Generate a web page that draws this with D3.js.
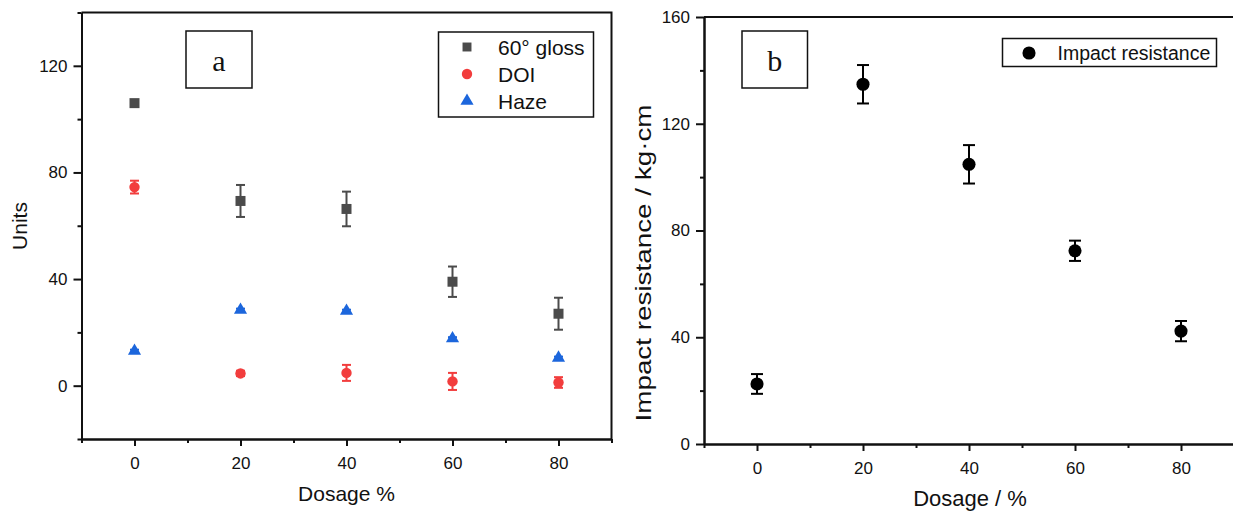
<!DOCTYPE html>
<html>
<head>
<meta charset="utf-8">
<script src="https://cdn.jsdelivr.net/npm/d3@7"></script>
<style>
  body { margin: 0; background: #fff; }
  svg text { font-family: Arial, "Liberation Sans", sans-serif; fill: #111; }
</style>
</head>
<body>
<svg id="chart" width="1233" height="511"></svg>
<script>
// dosage levels (%)
var dosage = [0, 20, 40, 60, 80];

// panel a
var glossValues = [106, 69.3, 66.3, 39, 27];
var glossErrors = [1, 6, 6.5, 5.7, 6];
var doiValues = [74.5, 4.6, 4.8, 1.6, 1.2];
var doiErrors = [2.4, 1, 3, 3.2, 2];
var hazeValues = [13, 28.4, 28, 17.7, 10.4];
var hazeErrors = [0.5, 0.5, 0.5, 0.5, 0.5];

// panel b
var impactValues = [22.5, 134.8, 104.8, 72.4, 42.3];
var impactErrors = [3.7, 7.2, 7.2, 3.8, 3.8];

// ticks
var xTicks = [0, 20, 40, 60, 80];
var xMinorTicks = [-10, 10, 30, 50, 70, 90];
var yTicksA = [0, 40, 80, 120];
var yMinorTicksA = [-20, 20, 60, 100, 140];
var yTicksB = [0, 40, 80, 120, 160];
var yMinorTicksB = [20, 60, 100, 140];

var svg = d3.select("#chart");

function drawAxes(g, x, y, xt, xmt, yt, ymt) {
    var xr = x.range(), yr = y.range();

    // frame top / right
    g.append("path")
        .attr("d", "M" + xr[0] + "," + yr[1] + "H" + xr[1] + "V" + yr[0])
        .attr("fill", "none").attr("stroke", "#111").attr("stroke-width", 2);

    var ax = g.append("g").attr("transform", "translate(0," + yr[0] + ")")
        .call(d3.axisBottom(x).tickValues(xt).tickSize(7).tickSizeOuter(0).tickPadding(11));
    var axm = g.append("g").attr("transform", "translate(0," + yr[0] + ")")
        .call(d3.axisBottom(x).tickValues(xmt).tickSize(4).tickSizeOuter(0).tickFormat(""));
    var ay = g.append("g").attr("transform", "translate(" + xr[0] + ",0)")
        .call(d3.axisLeft(y).tickValues(yt).tickSize(8).tickSizeOuter(0).tickPadding(6));
    var aym = g.append("g").attr("transform", "translate(" + xr[0] + ",0)")
        .call(d3.axisLeft(y).tickValues(ymt).tickSize(4).tickSizeOuter(0).tickFormat(""));

    [ax, axm, ay, aym].forEach(function(a) {
        a.select(".domain").attr("stroke", "#111").attr("stroke-width", 2);
        a.selectAll(".tick line").attr("stroke", "#111").attr("stroke-width", 2);
        a.selectAll(".tick text").style("font-size", "17px").attr("fill", "#111");
    });
}

function drawSeries(g, x, y, values, errors, symbol, size, color, cap) {
    var pts = dosage.map(function(d, i) { return { d: d, v: values[i], e: errors[i] }; });

    var eb = g.append("g").selectAll("g").data(pts).enter().append("g")
        .attr("stroke", color).attr("stroke-width", 2);
    eb.append("line")
        .attr("x1", function(p) { return x(p.d); })
        .attr("x2", function(p) { return x(p.d); })
        .attr("y1", function(p) { return y(p.v - p.e); })
        .attr("y2", function(p) { return y(p.v + p.e); });
    [-1, 1].forEach(function(s) {
        eb.append("line")
            .attr("x1", function(p) { return x(p.d) - cap / 2; })
            .attr("x2", function(p) { return x(p.d) + cap / 2; })
            .attr("y1", function(p) { return y(p.v + s * p.e); })
            .attr("y2", function(p) { return y(p.v + s * p.e); });
    });

    g.append("g").selectAll("path").data(pts).enter().append("path")
        .attr("d", d3.symbol().type(symbol).size(size))
        .attr("transform", function(p) { return "translate(" + x(p.d) + "," + y(p.v) + ")"; })
        .attr("fill", color);
}

function labelBox(g, x0, y0, w, h, letter) {
    g.append("rect").attr("x", x0).attr("y", y0).attr("width", w).attr("height", h)
        .attr("fill", "#fff").attr("stroke", "#111").attr("stroke-width", 1.5);
    g.append("text").attr("x", x0 + w / 2).attr("y", y0 + 40)
        .attr("text-anchor", "middle")
        .style("font-family", "'Liberation Serif', 'Times New Roman', serif")
        .style("font-size", "30px")
        .text(letter);
}

// ---------- panel a ----------
var ga = svg.append("g");
var xa = d3.scaleLinear().domain([-10, 90]).range([81.5, 611.5]);
var ya = d3.scaleLinear().domain([-20, 140]).range([439, 12.5]);

drawAxes(ga, xa, ya, xTicks, xMinorTicks, yTicksA, yMinorTicksA);
labelBox(ga, 186, 31, 66, 57, "a");

var glossColor = "#4b4b4b", doiColor = "#f23d3d", hazeColor = "#1c66dc";
drawSeries(ga, xa, ya, glossValues, glossErrors, d3.symbolSquare, 100, glossColor, 9);
drawSeries(ga, xa, ya, doiValues, doiErrors, d3.symbolCircle, 85, doiColor, 9);
drawSeries(ga, xa, ya, hazeValues, hazeErrors, d3.symbolTriangle, 75, hazeColor, 9);

// legend a
var legA = [
    { name: "60° gloss", sym: d3.symbolSquare, size: 80, color: glossColor },
    { name: "DOI", sym: d3.symbolCircle, size: 85, color: doiColor },
    { name: "Haze", sym: d3.symbolTriangle, size: 75, color: hazeColor }
];
ga.append("rect").attr("x", 438.5).attr("y", 32).attr("width", 155).attr("height", 85)
    .attr("fill", "#fff").attr("stroke", "#111").attr("stroke-width", 1.5);
legA.forEach(function(l, i) {
    var cy = 47 + i * 27;
    ga.append("path").attr("d", d3.symbol().type(l.sym).size(l.size))
        .attr("transform", "translate(467," + cy + ")").attr("fill", l.color);
    ga.append("text").attr("x", 498).attr("y", cy + 7.5)
        .style("font-size", "21px").text(l.name);
});

ga.append("text").attr("x", 346.5).attr("y", 501).attr("text-anchor", "middle")
    .style("font-size", "21px").text("Dosage %");
ga.append("text").attr("transform", "translate(27,226) rotate(-90)").attr("text-anchor", "middle")
    .style("font-size", "21px").text("Units");

// ---------- panel b ----------
var gb = svg.append("g");
var xb = d3.scaleLinear().domain([-10, 90]).range([704, 1234]);
var yb = d3.scaleLinear().domain([0, 160]).range([444, 17]);

drawAxes(gb, xb, yb, xTicks, xMinorTicks.slice(0, 5), yTicksB, yMinorTicksB);
labelBox(gb, 742, 31, 65.5, 57, "b");

drawSeries(gb, xb, yb, impactValues, impactErrors, d3.symbolCircle, 135, "#000", 12);

// legend b
gb.append("rect").attr("x", 1002.5).attr("y", 38.5).attr("width", 214).attr("height", 28)
    .attr("fill", "#fff").attr("stroke", "#111").attr("stroke-width", 1.5);
gb.append("path").attr("d", d3.symbol().type(d3.symbolCircle).size(135))
    .attr("transform", "translate(1029,53)").attr("fill", "#000");
gb.append("text").attr("x", 1057.5).attr("y", 60).style("font-size", "19.5px").text("Impact resistance");

gb.append("text").attr("x", 970).attr("y", 506).attr("text-anchor", "middle")
    .style("font-size", "22px").text("Dosage / %");
gb.append("text").attr("transform", "translate(651,263) rotate(-90)").attr("text-anchor", "middle")
    .attr("textLength", 317).attr("lengthAdjust", "spacingAndGlyphs")
    .style("font-size", "22px").text("Impact resistance / kg·cm");
</script>
</body>
</html>
